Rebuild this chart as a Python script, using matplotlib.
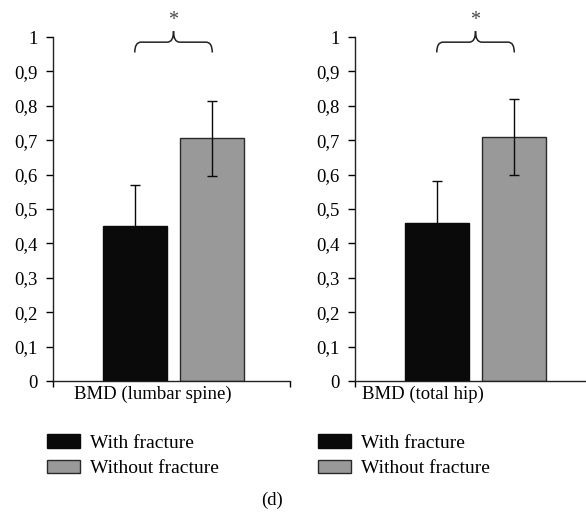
import matplotlib
matplotlib.use("Agg")
import matplotlib.pyplot as plt
from matplotlib.path import Path
from matplotlib.patches import PathPatch, Patch

plt.rcParams['font.family'] = ['Liberation Serif', 'DejaVu Serif']

W, H = 586, 516

groups = ["With fracture", "Without fracture"]
sites = ["BMD (lumbar spine)", "BMD (total hip)"]
means = {
    "BMD (lumbar spine)": [0.45, 0.705],
    "BMD (total hip)": [0.46, 0.71],
}
errors = {
    "BMD (lumbar spine)": [0.12, 0.11],
    "BMD (total hip)": [0.12, 0.11],
}
yticks = [0, 0.1, 0.2, 0.3, 0.4, 0.5, 0.6, 0.7, 0.8, 0.9, 1]
ytick_labels = ["0", "0,1", "0,2", "0,3", "0,4", "0,5", "0,6", "0,7", "0,8", "0,9", "1"]
colors = ["#0a0a0a", "#999999"]
edges = ["#0a0a0a", "#2a2a2a"]

FS = 13.5


def px_axes(fig, x0, y_top, w, h):
    return fig.add_axes([x0 / W, (H - y_top - h) / H, w / W, h / H])


def brace(ax, x0, x1, ylow, ymid, ytip):
    xm = (x0 + x1) / 2
    r = (x1 - x0) * 0.08
    verts = [(x0, ylow), (x0, ymid), (x0 + r, ymid),
             (xm - r, ymid),
             (xm, ymid), (xm, ytip),
             (xm, ymid), (xm + r, ymid),
             (x1 - r, ymid),
             (x1, ymid), (x1, ylow)]
    codes = [Path.MOVETO, Path.CURVE3, Path.CURVE3,
             Path.LINETO,
             Path.CURVE3, Path.CURVE3,
             Path.CURVE3, Path.CURVE3,
             Path.LINETO,
             Path.CURVE3, Path.CURVE3]
    ax.add_patch(PathPatch(Path(verts, codes), fill=False, lw=1.1,
                           edgecolor="#222222", clip_on=False))
    ax.text(xm, ytip + 0.002, "*", ha="center", va="bottom", fontsize=FS + 1,
            color="#444444", clip_on=False)


fig = plt.figure(figsize=(W / 100, H / 100), dpi=100)

offsets = [-0.155, 0.172]
bar_w = 0.272
panel_x = [53, 355]
label_x = [153, 423]
legend_x = [47, 318]

for i, site in enumerate(sites):
    ax = px_axes(fig, panel_x[i], 37, 237, 344)
    xs = list(offsets)
    ax.bar(xs, means[site], width=bar_w, color=colors, edgecolor=edges,
           linewidth=1.0, zorder=2)
    ax.errorbar(xs, means[site], yerr=errors[site], fmt="none",
                ecolor="#0a0a0a", elinewidth=1.0, capsize=3.6, capthick=1.0,
                zorder=3)
    ax.set_xlim(-0.5, 0.5)
    ax.set_ylim(0, 1)
    ax.set_yticks(yticks)
    ax.set_yticklabels(ytick_labels, fontsize=FS)
    ax.set_xticks([-0.5, 0.5])
    ax.set_xticklabels(["", ""])
    ax.tick_params(axis="y", direction="out", length=5, width=1, pad=6)
    ax.tick_params(axis="x", direction="out", length=4, width=1)
    for s in ["top", "right"]:
        ax.spines[s].set_visible(False)
    for s in ["left", "bottom"]:
        ax.spines[s].set_linewidth(1.0)
        ax.spines[s].set_color("#222222")
    brace(ax, xs[0], xs[1], 0.955, 0.985, 1.017)

    fig.text(label_x[i] / W, 1 - 394 / H, site, ha="center", va="center",
             fontsize=FS)

    handles = [Patch(facecolor=colors[k], edgecolor=edges[k], linewidth=1.0,
                     label=groups[k]) for k in range(2)]
    fig.legend(handles=handles, loc="upper left",
               bbox_to_anchor=(legend_x[i] / W, 1 - 434 / H),
               frameon=False, fontsize=FS + 0.5, handlelength=1.7,
               handleheight=0.7, handletextpad=0.5, labelspacing=0.42,
               borderpad=0, borderaxespad=0)

fig.text(272 / W, 1 - 500 / H, "(d)", ha="center", va="center", fontsize=FS)

fig.savefig("out.png", dpi=100)
